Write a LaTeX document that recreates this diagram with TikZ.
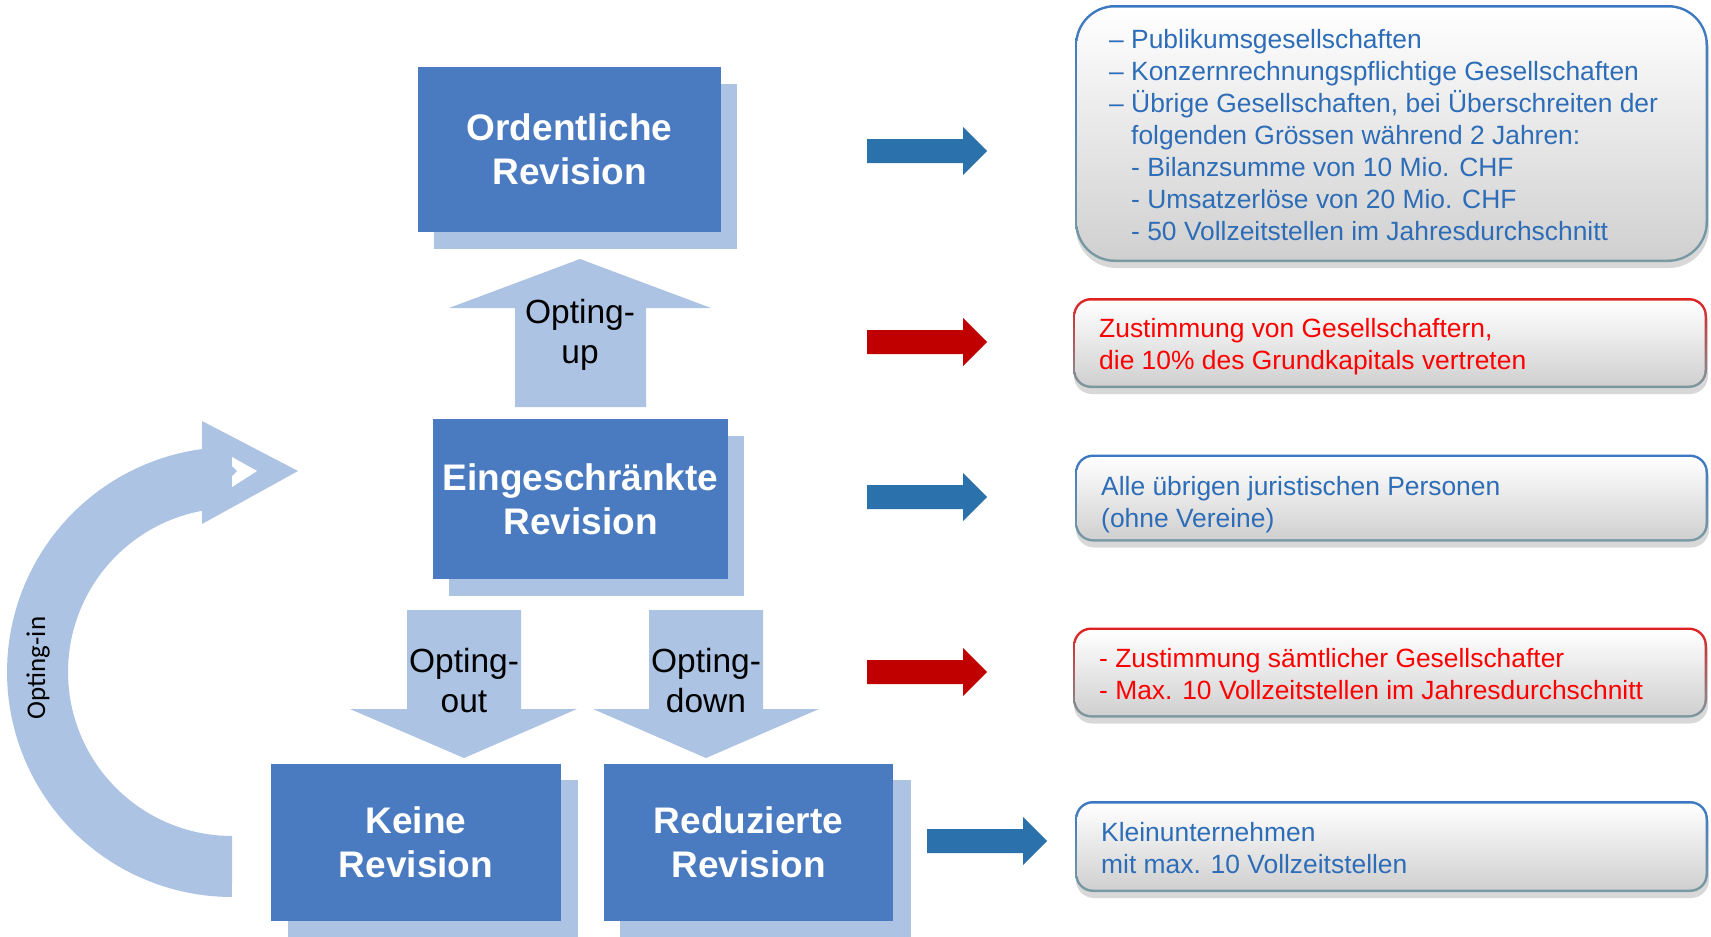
\documentclass[tikz,border=0pt]{standalone}
\usepackage{fontspec}
\setmainfont{Liberation Sans}
\newfontfamily\calib{Carlito}
\usetikzlibrary{shadows}
\definecolor{mainblue}{HTML}{4A7AC0}
\definecolor{lightblue}{HTML}{ADC3E4}
\definecolor{arrblue}{HTML}{2B71AC}
\definecolor{arrred}{HTML}{C00000}
\definecolor{txtblue}{HTML}{2D6DB7}
\definecolor{txtred}{HTML}{FF0000}
\definecolor{bordblue}{HTML}{3B78C2}
\definecolor{bordred}{HTML}{E02020}
\definecolor{bordgray}{HTML}{7A9AA2}
\definecolor{fillbot}{HTML}{D0D0D0}
\tikzset{
  mainbox/.style={fill=mainblue, text=white, font=\fontsize{37}{44}\selectfont\bfseries, align=center, inner sep=0pt},
  optlabel/.style={font=\fontsize{33.5}{40}\selectfont, text=black, anchor=base, inner sep=0pt},
  lightarrow/.style={fill=lightblue},
  bluearrow/.style={fill=arrblue},
  redarrow/.style={fill=arrred},
  rboxouter/.style={draw=none, inner sep=0pt, drop shadow={opacity=0.3, shadow xshift=1pt, shadow yshift=-6pt}},
  rboxinner/.style={draw=none, inner sep=0pt, top color=white, bottom color=fillbot},
  rboxtxt/.style={font=\fontsize{26.4}{32}\selectfont, anchor=base west, inner sep=0pt},
}
\begin{document}
\begin{tikzpicture}[x=1pt,y=-1pt]
\useasboundingbox (0,0) rectangle (1711,937);
\fill[white] (0,0) rectangle (1711,937);

% shadows of main boxes
\fill[lightblue] (434,84) rectangle (737,249);
\fill[lightblue] (449,436) rectangle (744,596);
\fill[lightblue] (288,780) rectangle (578,937);
\fill[lightblue] (620,780) rectangle (911,937);

% main boxes
\node[mainbox, minimum width=303pt, minimum height=165pt] (ord) at (569.5,149.5) {Ordentliche\\Revision};
\node[mainbox, minimum width=295pt, minimum height=160pt] (ein) at (580.5,499) {Eingeschränkte\\Revision};
\node[mainbox, minimum width=290pt, minimum height=157pt] (kei) at (416,842.5) {Keine\\Revision};
\node[mainbox, minimum width=289pt, minimum height=157pt] (red) at (748.5,842.5) {Reduzierte\\Revision};

% block arrows
\fill[lightarrow] (515,407) -- (515,308) -- (449,308) -- (580,259) -- (711,308) -- (646,308) -- (646,407) -- cycle;
\fill[lightarrow] (407,610) -- (521,610) -- (521,709) -- (577,709) -- (464,758) -- (350,709) -- (407,709) -- cycle;
\fill[lightarrow] (649,610) -- (763,610) -- (763,709) -- (819,709) -- (706,758) -- (593,709) -- (649,709) -- cycle;
\node[optlabel] (upA) at (580,323) {Opting-};
\node[optlabel] (upB) at (580,363) {up};
\node[optlabel] (outA) at (464,672) {Opting-};
\node[optlabel] (outB) at (464,712) {out};
\node[optlabel] (downA) at (706,672) {Opting-};
\node[optlabel] (downB) at (706,712) {down};

% opting-in curved arrow
\fill[lightarrow] (202,449)
  -- plot[domain=262.3:90, samples=80] ({232+225*cos(\x)},{672+225*sin(\x)})
  -- plot[domain=90:259.5, samples=80] ({232+164*cos(\x)},{672+164*sin(\x)})
  -- (202,524) -- (298,471) -- (202,421) -- cycle;
\fill[white] (232,457) -- (257,471) -- (232,487) -- cycle;
\fill[lightblue] (232,466) -- (237,471) -- (232,476) -- cycle;
\node[rotate=90, anchor=base, inner sep=0pt, font=\calib\fontsize{27}{32}\selectfont] (optin) at (45,668) {Opting-in};

% right arrows
\fill[bluearrow] (867,139) -- (963,139) -- (963,127) -- (987,151) -- (963,175) -- (963,163) -- (867,163) -- cycle;
\fill[redarrow] (867,330) -- (963,330) -- (963,318) -- (987,342) -- (963,366) -- (963,354) -- (867,354) -- cycle;
\fill[bluearrow] (867,485) -- (963,485) -- (963,473) -- (987,497) -- (963,521) -- (963,509) -- (867,509) -- cycle;
\fill[redarrow] (867,660) -- (963,660) -- (963,648) -- (987,672) -- (963,696) -- (963,684) -- (867,684) -- cycle;
\fill[bluearrow] (927,829) -- (1023,829) -- (1023,817) -- (1047,841) -- (1023,865) -- (1023,853) -- (927,853) -- cycle;

% right boxes
\node[rboxouter, rounded corners=40pt, top color=bordblue, bottom color=bordgray, minimum width=633pt, minimum height=257pt] (b1) at (1391.5,133.5) {};
\node[rboxinner, rounded corners=37.5pt, minimum width=628pt, minimum height=252pt] (b1in) at (b1) {};
\node[rboxouter, rounded corners=18pt, top color=bordred, bottom color=bordgray, minimum width=634pt, minimum height=90pt] (b2) at (1390,343) {};
\node[rboxinner, rounded corners=15.5pt, minimum width=629pt, minimum height=85pt] (b2in) at (b2) {};
\node[rboxouter, rounded corners=18pt, top color=bordblue, bottom color=bordgray, minimum width=633pt, minimum height=87pt] (b3) at (1391.5,498) {};
\node[rboxinner, rounded corners=15.5pt, minimum width=628pt, minimum height=82pt] (b3in) at (b3) {};
\node[rboxouter, rounded corners=18pt, top color=bordred, bottom color=bordgray, minimum width=634pt, minimum height=90pt] (b4) at (1390,672.5) {};
\node[rboxinner, rounded corners=15.5pt, minimum width=629pt, minimum height=85pt] (b4in) at (b4) {};
\node[rboxouter, rounded corners=18pt, top color=bordblue, bottom color=bordgray, minimum width=633pt, minimum height=91pt] (b5) at (1391.5,846.5) {};
\node[rboxinner, rounded corners=15.5pt, minimum width=628pt, minimum height=86pt] (b5in) at (b5) {};

% texts
\node[rboxtxt, text=txtblue] (t1a) at (1109,48.7) {– Publikumsgesellschaften};
\node[rboxtxt, text=txtblue] (t1b) at (1109,80.7) {– Konzernrechnungspflichtige Gesellschaften};
\node[rboxtxt, text=txtblue] (t1c) at (1109,112.7) {– Übrige Gesellschaften, bei Überschreiten der};
\node[rboxtxt, text=txtblue] (t1d) at (1131,144.7) {folgenden Grössen während 2 Jahren:};
\node[rboxtxt, text=txtblue] (t1e) at (1131,176.7) {- Bilanzsumme von 10 Mio. CHF};
\node[rboxtxt, text=txtblue] (t1f) at (1131,208.7) {- Umsatzerlöse von 20 Mio. CHF};
\node[rboxtxt, text=txtblue] (t1g) at (1131,240.7) {- 50 Vollzeitstellen im Jahresdurchschnitt};

\node[rboxtxt, text=txtred] (t2a) at (1099,337.5) {Zustimmung von Gesellschaftern,};
\node[rboxtxt, text=txtred] (t2b) at (1099,369) {die 10\% des Grundkapitals vertreten};

\node[rboxtxt, text=txtblue] (t3a) at (1101,495) {Alle übrigen juristischen Personen};
\node[rboxtxt, text=txtblue] (t3b) at (1101,527) {(ohne Vereine)};

\node[rboxtxt, text=txtred] (t4a) at (1099,667.5) {- Zustimmung sämtlicher Gesellschafter};
\node[rboxtxt, text=txtred] (t4b) at (1099,699) {- Max. 10 Vollzeitstellen im Jahresdurchschnitt};

\node[rboxtxt, text=txtblue] (t5a) at (1101,841) {Kleinunternehmen};
\node[rboxtxt, text=txtblue] (t5b) at (1101,873) {mit max. 10 Vollzeitstellen};
\end{tikzpicture}
\end{document}
